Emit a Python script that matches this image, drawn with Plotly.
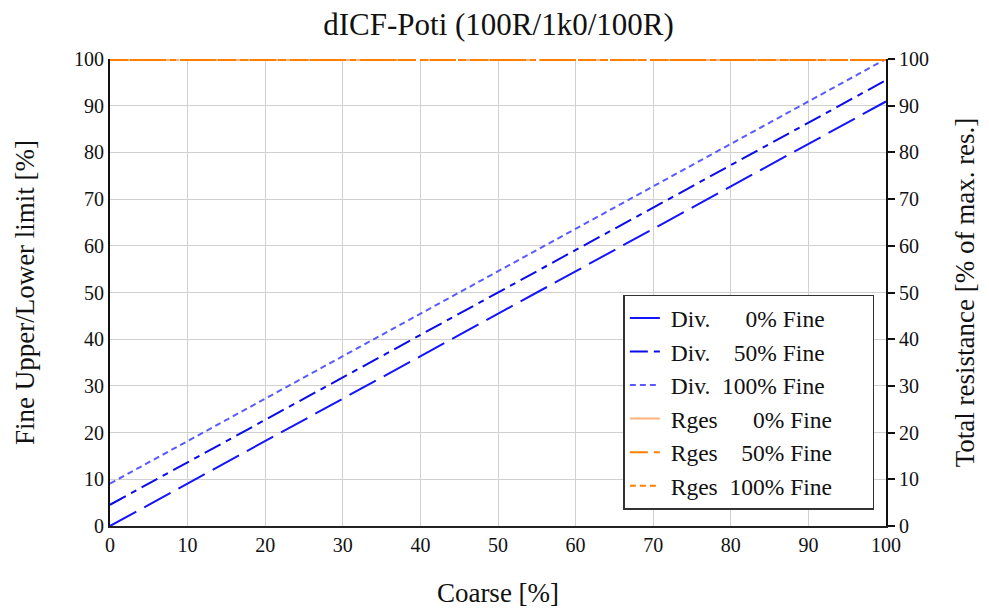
import plotly.graph_objects as go

coarse = [0, 100]
div_0 = [0.0, 90.9]
div_50 = [4.55, 95.45]
div_100 = [9.09, 100.0]
rges_0 = [100.0, 100.0]
rges_50 = [100.0, 100.0]
rges_100 = [100.0, 100.0]

ticks = [0, 10, 20, 30, 40, 50, 60, 70, 80, 90, 100]
NB = "\u00a0"
names = [
    NB + "Div." + NB * 6 + "0% Fine" + NB * 6,
    NB + "Div." + NB * 4 + "50% Fine" + NB * 6,
    NB + "Div." + NB * 2 + "100% Fine" + NB * 6,
    NB + "Rges" + NB * 6 + "0% Fine" + NB * 6,
    NB + "Rges" + NB * 4 + "50% Fine" + NB * 6,
    NB + "Rges" + NB * 2 + "100% Fine" + NB * 6,
]
FONT = "Liberation Serif, Times New Roman, serif"

series = [
    (div_0, names[0], "#1414ff", "30px,9px", "y"),
    (div_50, names[1], "#0a0aee", "18px,6px,6px,6px", "y"),
    (div_100, names[2], "#5a5aff", "6px,4px", "y"),
    (rges_0, names[3], "#ffb27a", "30px,9px", "y2"),
    (rges_50, names[4], "#ff8000", "18px,6px,6px,6px", "y2"),
    (rges_100, names[5], "#ff8000", "6px,4px", "y2"),
]

fig = go.Figure()
# Rges lines sit on the top edge; draw them thicker so they stay visible
for vals, name, color, dash, ax in series:
    if ax == "y2":
        fig.add_trace(go.Scatter(x=coarse, y=vals, mode="lines", yaxis=ax,
                                 showlegend=False, hoverinfo="skip",
                                 line=dict(color=color, width=4, dash=dash)))
for vals, name, color, dash, ax in series:
    fig.add_trace(go.Scatter(x=coarse, y=vals, mode="lines", name=name, yaxis=ax,
                             line=dict(color=color, width=2, dash=dash)))

fig.update_layout(
    width=981, height=600,
    margin=dict(l=102, r=103, t=51, b=82, autoexpand=False),
    paper_bgcolor="white", plot_bgcolor="white",
    font=dict(family=FONT, color="#111111", size=19),
    title=dict(text="dICF-Poti (100R/1k0/100R)", x=0.5, xanchor="center",
               y=0.973, yanchor="middle", font=dict(size=31, family=FONT)),
    xaxis=dict(range=[0, 100], tickvals=ticks, showgrid=True, gridcolor="#d0d0d0",
               gridwidth=1, showline=True, linecolor="#222222", linewidth=2,
               ticks="", zeroline=False, tickfont=dict(size=20), automargin=False,
               title=dict(text="Coarse [%]", font=dict(size=27), standoff=30)),
    yaxis=dict(range=[0, 100], tickvals=ticks, showgrid=True, gridcolor="#d0d0d0",
               gridwidth=1, showline=True, linecolor="#111111", linewidth=2,
               ticks="", zeroline=False, tickfont=dict(size=20), automargin=False,
               title=dict(text="Fine Upper/Lower limit [%]", font=dict(size=27), standoff=32)),
    yaxis2=dict(range=[0, 100], tickvals=ticks, overlaying="y", side="right",
                showgrid=False, showline=True, linecolor="#111111", linewidth=2,
                ticks="outside", ticklen=7, tickwidth=2, tickcolor="#111111",
                zeroline=False, tickfont=dict(size=20), automargin=False,
                title=dict(text="Total resistance [% of max. res.]", font=dict(size=27), standoff=27)),
    legend=dict(x=0.985, y=0.035, xanchor="right", yanchor="bottom",
                bgcolor="white", bordercolor="#333333", borderwidth=1.5,
                font=dict(size=23.5, family=FONT), tracegroupgap=0,
                itemwidth=30),
    showlegend=True,
)

fig.write_html("out.html")
